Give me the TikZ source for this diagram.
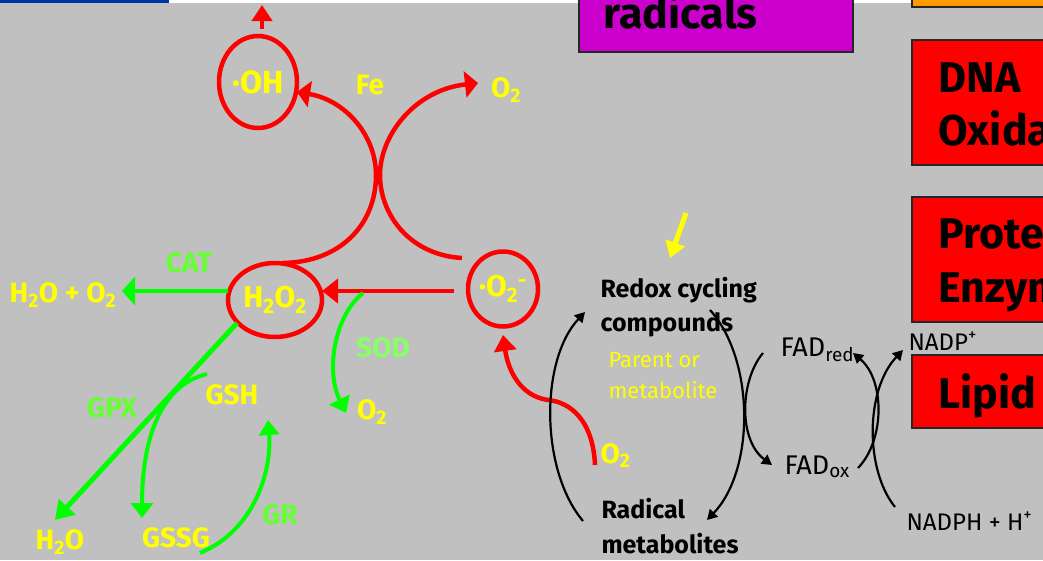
\documentclass[tikz,border=0pt]{standalone}
\usepackage{fontspec}
\setmainfont{Fira Sans}
\usetikzlibrary{arrows.meta,shapes.geometric}
\definecolor{bg}{HTML}{C0C0C0}
\definecolor{slideblue}{HTML}{0033AA}
\definecolor{boxpurple}{HTML}{CC00CC}
\definecolor{boxorange}{HTML}{FF9900}
\definecolor{rred}{HTML}{FF0000}
\definecolor{ggreen}{HTML}{00FF00}
\definecolor{lgreen}{HTML}{66FF33}
\definecolor{pgreen}{HTML}{88FF66}
\definecolor{yyellow}{HTML}{FFFF00}
\tikzset{
  redln/.style={draw=rred, line width=4.5pt},
  redarr/.style={redln, -{Triangle[length=13pt,width=26pt]}},
  greenarr/.style={draw=ggreen, line width=4pt, -{Triangle[length=15pt,width=22pt]}},
  blackarr/.style={draw=black, line width=2.2pt, -{Triangle[length=10pt,width=11pt]}},
  ring/.style={draw=rred, line width=4.5pt, inner sep=0pt},
  lbl/.style={text=yyellow, font=\bfseries\fontsize{28}{30}\selectfont},
  enz/.style={text=lgreen, font=\bfseries\fontsize{28}{30}\selectfont},
  blk/.style={text=black, anchor=base west, font=\bfseries\fontsize{25}{28}\selectfont},
  ylw/.style={text=yyellow, anchor=base west, font=\fontsize{22}{24}\selectfont},
  thin/.style={text=black, anchor=base west, font=\fontsize{27}{29}\selectfont},
  box/.style={draw=black!85, line width=2pt},
  boxtxt/.style={text=black, anchor=base west, font=\bfseries\fontsize{43}{46}\selectfont},
}
\begin{document}
\begin{tikzpicture}[x=1pt,y=-1pt]
\useasboundingbox (0,0) rectangle (1043,560);
\clip (0,0) rectangle (1043,560);
\fill[bg] (0,0) rectangle (1043,560);
\fill[slideblue] (0,0) rectangle (169,3);
\fill[white] (169,0) rectangle (1043,3);

% boxes on the right
\draw[box, fill=boxpurple] (579,-10) rectangle (853,52);
\node[boxtxt] (trad) at (600,28) {radicals};
\draw[box, fill=boxorange] (912,-10) rectangle (1060,7);
\draw[box, fill=rred] (912,40) rectangle (1060,165);
\node[boxtxt] (tdna) at (935,92) {DNA};
\node[boxtxt] (toxi) at (935,145) {Oxida};
\draw[box, fill=rred] (912,197) rectangle (1060,322);
\node[boxtxt] (tpro) at (935,248) {Prote};
\node[boxtxt] (tenz) at (935,302) {Enzym};
\draw[box, fill=rred] (912,355) rectangle (1060,428);
\node[boxtxt] (tlip) at (935,408) {Lipid};

% species nodes
\node[ring, ellipse, minimum width=78pt, minimum height=92pt, lbl, font=\bfseries\fontsize{32}{34}\selectfont] (oh) at (258,82) {·OH};
\node[ring, ellipse, minimum width=94pt, minimum height=74pt, lbl, font=\bfseries\fontsize{30}{32}\selectfont] (h2o2) at (275,300) {H\textsubscript{2}O\textsubscript{2}};
\node[ring, ellipse, minimum width=70pt, minimum height=75pt, lbl, font=\bfseries\fontsize{30}{32}\selectfont] (o2m) at (503,289) {·O\textsubscript{2}\textsuperscript{-}};

\node[lbl] (fe) at (370,85) {Fe};
\node[lbl] (o2top) at (506,90) {O\textsubscript{2}};
\node[enz] (cat) at (189,263) {CAT};
\node[lbl] (h2oo2) at (63,295) {H\textsubscript{2}O + O\textsubscript{2}};
\node[enz, text=pgreen] (sod) at (383,348) {SOD};
\node[lbl] (o2sod) at (372,412) {O\textsubscript{2}};
\node[enz] (gpx) at (112,408) {GPX};
\node[lbl] (gsh) at (232,395) {GSH};
\node[lbl] (h2o) at (60,542) {H\textsubscript{2}O};
\node[lbl] (gssg) at (176,538) {GSSG};
\node[enz] (gr) at (280,515) {GR};

% red reactions
\coordinate (ohs) at (262,29);
\coordinate (ohe) at (262,5);
\draw[redln, -{Triangle[length=16pt,width=20pt]}] (ohs) -- (ohe);
\coordinate (c1s) at (283,263);
\coordinate (c1e) at (297,92);
\draw[redarr] (c1s) .. controls (340,262) and (376,225) .. (376,175)
  .. controls (376,135) and (345,100) .. (c1e);
\coordinate (c2s) at (462,258);
\coordinate (c2e) at (478,83);
\draw[redarr] (c2s) .. controls (410,255) and (380,215) .. (380,175)
  .. controls (380,135) and (415,90) .. (c2e);
\coordinate (hs) at (454,291);
\coordinate (he) at (322,291);
\draw[redarr, -{Triangle[length=16pt,width=24pt]}] (hs) -- (he);
\coordinate (so2) at (595,465);
\coordinate (so2e) at (503,335);
\draw[redarr, -{Triangle[length=16pt,width=22pt]}] (so2) .. controls (593,420) and (570,402) .. (548,400)
  .. controls (520,396) and (508,370) .. (so2e);

% green reactions
\coordinate (cats) at (228,291);
\coordinate (cate) at (122,291);
\draw[greenarr, -{Triangle[length=13pt,width=28pt]}] (cats) -- (cate);
\coordinate (sods) at (363,293);
\coordinate (sode) at (346,413);
\draw[greenarr] (sods) .. controls (335,315) and (325,370) .. (sode);
\coordinate (gpxs) at (237,323);
\coordinate (gpxe) at (55,520);
\draw[greenarr, line width=5pt, -{Triangle[length=18pt,width=22pt]}] (gpxs) -- (gpxe);
\coordinate (gshs) at (207,374);
\coordinate (gshe) at (142,518);
\draw[greenarr] (gshs) .. controls (160,385) and (142,440) .. (gshe);
\coordinate (grs) at (200,553);
\coordinate (gre) at (268,420);
\draw[greenarr, -{Triangle[length=15pt,width=20pt]}] (grs) .. controls (255,530) and (272,470) .. (gre);

% redox cycling
\coordinate (ys) at (686,213);
\coordinate (ye) at (670,258);
\draw[draw=yyellow, line width=5pt, -{Triangle[length=16pt,width=20pt]}] (ys) -- (ye);
\node[blk] (redox) at (597,297) {Redox cycling};
\node[blk] (comp) at (597,331) {compounds};
\node[ylw] (par) at (605,367) {Parent or};
\node[ylw] (met) at (605,398) {metabolite};
\node[lbl, anchor=base west] (o2low) at (597,463) {O\textsubscript{2}};
\node[blk] (rad) at (598,518) {Radical};
\node[blk] (radm) at (598,553) {metabolites};

\coordinate (la) at (583,521);
\coordinate (lb) at (585,312);
\draw[blackarr] (la) .. controls (540,470) and (540,360) .. (lb);
\coordinate (ra) at (710,310);
\coordinate (rb) at (707,520);
\draw[blackarr] (ra) .. controls (755,360) and (755,470) .. (rb);

\node[thin] (fadr) at (777,356) {FAD\textsubscript{red}};
\node[thin] (fado) at (781,474) {FAD\textsubscript{ox}};
\node[thin, font=\fontsize{24}{26}\selectfont] (nadp) at (905,350) {NADP\textsuperscript{+}};
\node[thin, font=\fontsize{24}{26}\selectfont] (nadph) at (903,530) {NADPH + H\textsuperscript{+}};

\coordinate (f1a) at (763,353);
\coordinate (f1b) at (772,465);
\draw[blackarr] (f1a) .. controls (740,380) and (738,440) .. (f1b);
\coordinate (f2a) at (858,468);
\coordinate (f2b) at (853,353);
\draw[blackarr] (f2a) .. controls (885,440) and (885,380) .. (f2b);
\coordinate (n1a) at (895,507);
\coordinate (n1b) at (903,350);
\draw[blackarr] (n1a) .. controls (865,470) and (865,390) .. (n1b);
\end{tikzpicture}
\end{document}
